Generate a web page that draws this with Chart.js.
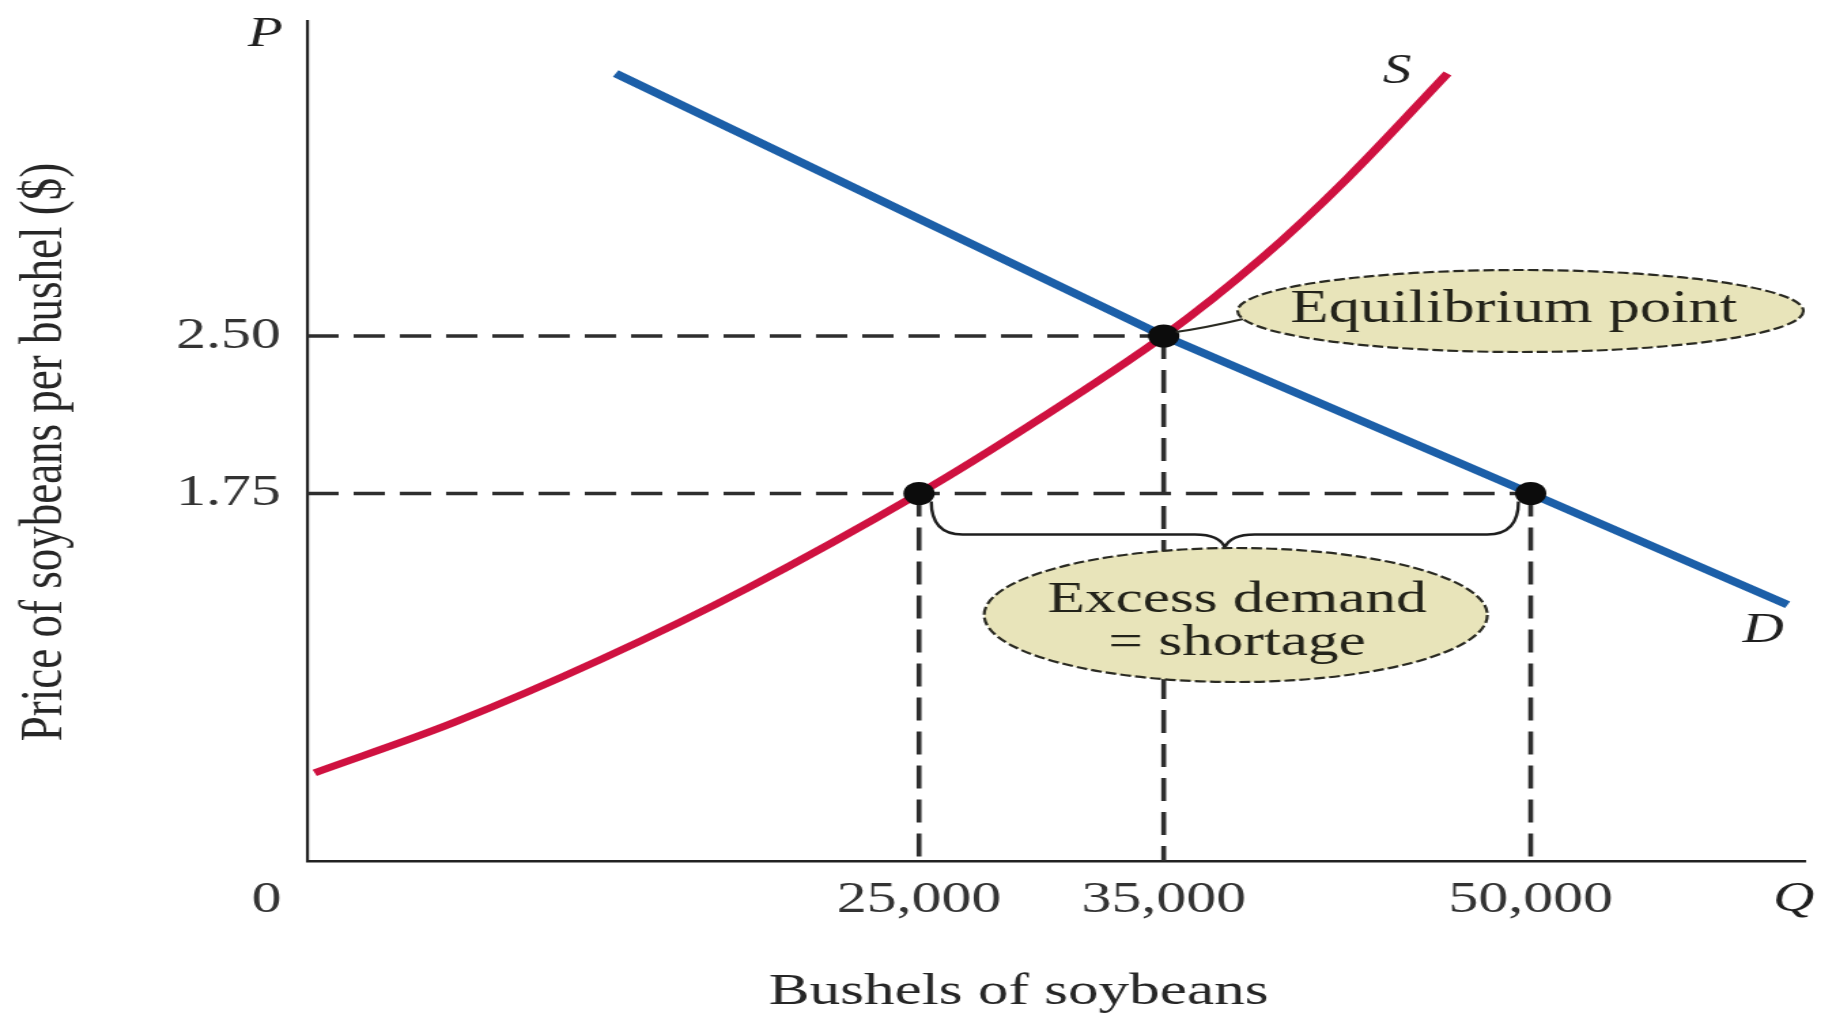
<!DOCTYPE html>
<html>
<head>
<meta charset="utf-8">
<title>Soybean market: excess demand at a price below equilibrium</title>
<script src="https://cdn.jsdelivr.net/npm/chart.js@4/dist/chart.umd.min.js"></script>
<style>
  html, body { margin: 0; padding: 0; background: #ffffff; overflow: hidden; }
  /* the figure is laid out narrow and widened horizontally, like the printed plate */
  #plate { position: absolute; left: 0; top: 0; width: 1342px; height: 1017px;
           transform: scaleX(1.36); transform-origin: 0 0; }
  #chart { display: block; width: 1342px; height: 1017px; }
</style>
</head>
<body>
<div id="plate"><canvas id="chart" width="1342" height="1017"></canvas></div>
<script>
// ---- data ----------------------------------------------------------------
const quantityTicks = [25000, 35000, 50000];      // bushels
const priceTicks = [1.75, 2.50];                   // $ per bushel

// supply curve S (quantity, price)
const supplyQ = [300, 6000, 12000, 18000, 25000, 30000, 35000, 39000, 42500, 46600];
const supplyP = [0.42, 0.66, 0.96, 1.30, 1.75, 2.11, 2.50, 2.87, 3.25, 3.75];

// demand curve D (quantity, price)
const demandQ = [12600, 35000, 50000, 60500];
const demandP = [3.75, 2.50, 1.75, 1.22];

// marked points: quantity supplied at $1.75, equilibrium, quantity demanded at $1.75
const markedQ = [25000, 35000, 50000];
const markedP = [1.75, 2.50, 1.75];

const axisFont = 'Liberation Serif, Times New Roman, serif';

// ---- datasets built from the arrays above --------------------------------
const toPoints = (qs, ps) => qs.map((q, i) => ({ x: q, y: ps[i] }));

const guideStyle = {
  borderColor: '#2e2e2e', borderWidth: 3.6, borderDash: [23, 11],
  pointRadius: 0, fill: false, tension: 0, order: 5
};

// horizontal guides: from the price axis out to the furthest marked point at that price
const guideSets = [];
[...new Set(markedP)].forEach(p => {
  const farQ = Math.max(...markedQ.filter((q, i) => markedP[i] === p));
  guideSets.push(Object.assign({ label: 'price ' + p, data: [{ x: 0, y: p }, { x: farQ, y: p }] }, guideStyle));
});
// vertical guides: from each marked point down to the quantity axis
markedQ.forEach((q, i) => {
  guideSets.push(Object.assign({ label: 'quantity ' + q, data: [{ x: q, y: markedP[i] }, { x: q, y: 0 }] }, guideStyle));
});

const datasets = [
  {
    label: 'marked points', data: toPoints(markedQ, markedP), showLine: false,
    pointRadius: 11.5, pointHoverRadius: 11.5, pointBackgroundColor: '#0c0c0c',
    pointBorderWidth: 0, order: 0
  },
  {
    label: 'S', data: toPoints(supplyQ, supplyP), borderColor: '#cf1140', borderWidth: 7,
    pointRadius: 0, tension: 0.35, cubicInterpolationMode: 'default',
    borderCapStyle: 'butt', fill: false, order: 1
  },
  {
    label: 'D', data: toPoints(demandQ, demandP), borderColor: '#1c5fa8', borderWidth: 7.5,
    pointRadius: 0, tension: 0, borderCapStyle: 'butt', fill: false, order: 2
  },
  ...guideSets
];

// ---- annotations: callouts, brace, curve and axis letters ----------------
function bubble(ctx, cx, cy, rx, ry) {
  ctx.beginPath();
  ctx.ellipse(cx, cy, rx, ry, 0, 0, Math.PI * 2);
  ctx.fillStyle = '#e8e4ba';
  ctx.fill();
  ctx.setLineDash([8, 3]);
  ctx.lineWidth = 2.2;
  ctx.strokeStyle = '#2a2a22';
  ctx.stroke();
  ctx.setLineDash([]);
}

function label(ctx, text, x, y, size, italic, color, align) {
  ctx.font = (italic ? 'italic ' : '') + size + 'px ' + axisFont;
  ctx.fillStyle = color || '#1f1f1f';
  ctx.textAlign = align || 'center';
  ctx.textBaseline = 'middle';
  ctx.fillText(text, x, y);
}

const annotations = {
  id: 'annotations',
  afterDatasetsDraw(chart) {
    const { ctx, scales: { x, y } } = chart;
    const px = v => x.getPixelForValue(v);
    const py = v => y.getPixelForValue(v);
    ctx.save();

    // brace under the gap between quantity supplied and quantity demanded
    const xL = px(markedQ[0]), xR = px(markedQ[2]), y0 = py(markedP[0]);
    const mid = (xL + xR) / 2;
    ctx.strokeStyle = '#1e1e1e';
    ctx.lineWidth = 2.4;
    ctx.setLineDash([]);
    ctx.beginPath();
    ctx.moveTo(xL + 9, y0 + 8);
    ctx.quadraticCurveTo(xL + 9, y0 + 41, xL + 32, y0 + 41);
    ctx.lineTo(mid - 22, y0 + 41);
    ctx.quadraticCurveTo(mid - 4, y0 + 41, mid, y0 + 54);
    ctx.quadraticCurveTo(mid + 4, y0 + 41, mid + 22, y0 + 41);
    ctx.lineTo(xR - 32, y0 + 41);
    ctx.quadraticCurveTo(xR - 9, y0 + 41, xR - 9, y0 + 8);
    ctx.stroke();

    // "Excess demand = shortage" callout
    const ex = mid + 8, ey = 615;
    bubble(ctx, ex, ey, 185, 67);
    label(ctx, 'Excess demand', ex + 1, ey - 15, 45, false, '#23231a');
    label(ctx, '= shortage', ex + 1, ey + 28, 45, false, '#23231a');

    // "Equilibrium point" callout and its leader to the equilibrium dot
    const qx = px(markedQ[1]), qy = py(markedP[1]);
    const bx = 1118, by = 311, brx = 208, bry = 41;
    ctx.strokeStyle = '#2a2a22';
    ctx.lineWidth = 2.2;
    ctx.beginPath();
    ctx.moveTo(qx + 9, qy - 4);
    ctx.quadraticCurveTo(qx + 30, qy - 8, bx - brx + 4, by + 8);
    ctx.stroke();
    bubble(ctx, bx, by, brx, bry);
    label(ctx, 'Equilibrium point', bx - 5, by - 1, 46, false, '#23231a');

    // curve names at the ends of the curves
    const sEnd = supplyQ.length - 1, dEnd = demandQ.length - 1;
    label(ctx, 'S', px(supplyQ[sEnd]) - 37, py(supplyP[sEnd]) - 2, 42, true);
    label(ctx, 'D', px(demandQ[dEnd]) - 18, py(demandP[dEnd]) + 26, 42, true);

    // axis letters and origin
    const area = chart.chartArea;
    label(ctx, 'P', area.left - 31, area.top + 14, 42, true);
    label(ctx, 'Q', area.right - 8, 900, 42, true);
    label(ctx, '0', area.left - 30, 900, 44, false, '#333333');

    // axis titles
    label(ctx, 'Bushels of soybeans', 749, 992, 45, false, '#262626');
    ctx.save();
    ctx.translate(33, 452);
    ctx.rotate(-Math.PI / 2);
    label(ctx, 'Price of soybeans per bushel ($)', 0, 0, 45, false, '#262626');
    ctx.restore();

    ctx.restore();
  }
};

// fixed axis boxes: no extra room reserved for edge tick labels
function fixBox(size, isX) {
  return s => {
    if (isX) { s.height = size; } else { s.width = size; }
    s.paddingTop = 0; s.paddingBottom = 0; s.paddingLeft = 0; s.paddingRight = 0;
  };
}

// ---- chart ----------------------------------------------------------------
new Chart(document.getElementById('chart'), {
  type: 'line',
  data: { datasets },
  options: {
    responsive: false,
    animation: false,
    devicePixelRatio: 1,
    events: [],
    layout: { padding: { top: 21, right: 15, bottom: 0, left: 0 } },
    plugins: { legend: { display: false }, tooltip: { enabled: false } },
    scales: {
      x: {
        type: 'linear', min: 0, max: 61200,
        afterBuildTicks: s => { s.ticks = quantityTicks.map(v => ({ value: v })); },
        afterFit: fixBox(156, true),
        ticks: {
          autoSkip: false, maxRotation: 0, minRotation: 0, padding: 13,
          color: '#333333', font: { family: axisFont, size: 44, lineHeight: 1.2 },
          callback: v => Number(v).toLocaleString('en-US')
        },
        grid: { display: false, drawTicks: false },
        border: { display: true, color: '#222222', width: 2.6 },
        title: { display: false }
      },
      y: {
        type: 'linear', min: 0, max: 4,
        afterBuildTicks: s => { s.ticks = priceTicks.map(v => ({ value: v })); },
        afterFit: fixBox(226, false),
        ticks: {
          autoSkip: false, padding: 19.5,
          color: '#333333', font: { family: axisFont, size: 44, lineHeight: 1.2 },
          callback: v => Number(v).toFixed(2)
        },
        grid: { display: false, drawTicks: false },
        border: { display: true, color: '#222222', width: 2.2 },
        title: { display: false }
      }
    }
  },
  plugins: [annotations]
});
</script>
</body>
</html>
